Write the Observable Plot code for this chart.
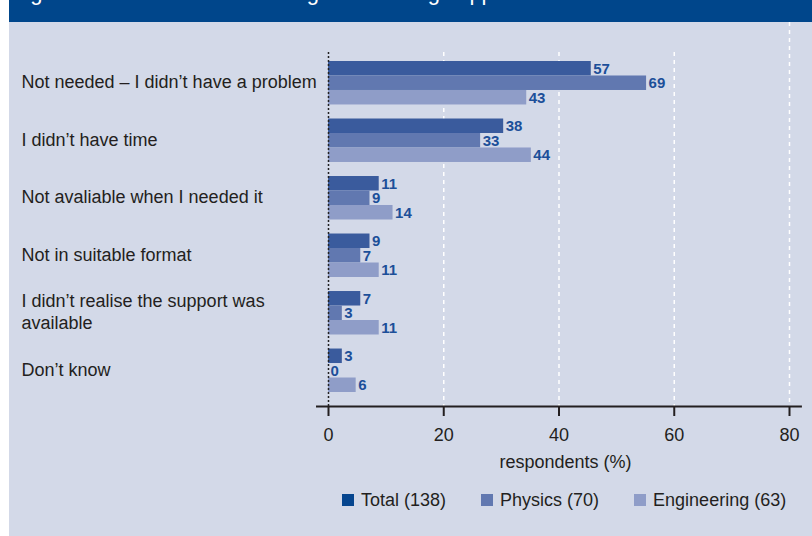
<!DOCTYPE html>
<html>
<head>
<meta charset="utf-8">
<script src="https://cdn.jsdelivr.net/npm/d3@7"></script>
<script src="https://cdn.jsdelivr.net/npm/@observablehq/plot@0.6"></script>
<style>
  html, body { margin: 0; padding: 0; }
  body { width: 812px; height: 536px; overflow: hidden; position: relative; background: #ffffff;
         font-family: "Liberation Sans", Arial, sans-serif; }
  #panel { position: absolute; left: 9px; top: 22px; width: 803px; height: 514px; background: #d3d9e8; }
  #banner { position: absolute; left: 9px; top: 0; width: 803px; height: 22px; background: #00468b; overflow: hidden; }
  #title { position: absolute; left: 3px; top: -18px; color: #ffffff; font-size: 22px; white-space: nowrap;
           font-family: "Liberation Sans", Arial, sans-serif; line-height: 22px; }
  #chart { position: absolute; left: 0; top: 0; }
  #legend { position: absolute; left: 342px; top: 488px; display: flex; align-items: center; height: 24px;
            font-size: 18px; color: #231f20; white-space: nowrap; width: 470px; }
  .item { display: flex; align-items: center; margin-right: 35px; flex: none; }
  .sw { width: 12px; height: 12px; margin-right: 7px; flex: none; }
</style>
</head>
<body>
<div id="panel"></div>
<div id="banner"><div id="title">Figure 6: Reasons for not using the learning support</div></div>
<div id="chart"></div>
<div id="legend"></div>
<script>
// ---- data ----
const categories = [
  "Not needed – I didn’t have a problem",
  "I didn’t have time",
  "Not avaliable when I needed it",
  "Not in suitable format",
  "I didn’t realise the support was\navailable",
  "Don’t know"
];
const seriesNames = ["Total (138)", "Physics (70)", "Engineering (63)"];
const totalValues = [57, 38, 11, 9, 7, 3];
const physicsValues = [69, 33, 9, 7, 3, 0];
const engineeringValues = [43, 44, 14, 11, 11, 6];
const axisTicks = [0, 20, 40, 60, 80];
const axisTitle = "respondents (%)";

// ---- styling ----
const barColors = ["#3a5b9d", "#6178b0", "#8f9dc8"];
const legendColors = ["#06468f", "#6178b0", "#8f9dc8"];
const labelColor = "#1c4f99";
const textColor = "#231f20";
// in the source figure bars are drawn 1.25x longer than the axis units
const barScale = 1.25;

const seriesValues = [totalValues, physicsValues, engineeringValues];
const rows = [];
seriesValues.forEach((vals, s) => vals.forEach((v, c) => rows.push({series: seriesNames[s], s, category: categories[c], value: v})));

const tickPositions = axisTicks.map(t => t * barScale);

const yRange = [61, 392];
const padIn = 0.244;
const step = (yRange[1] - yRange[0]) / (categories.length - padIn);
const bw = step * (1 - padIn);
const sub = bw / 3;

const marks = [];
// gridlines
marks.push(Plot.ruleX(tickPositions.slice(1, 4), {stroke: "#ffffff", strokeWidth: 1.5, strokeDasharray: "4,4", insetTop: 30}));
marks.push(Plot.ruleX(tickPositions.slice(4), {stroke: "#ffffff", strokeWidth: 1.5, strokeDasharray: "4,4"}));
// bars
seriesNames.forEach((name, i) => {
  marks.push(Plot.barX(rows.filter(r => r.s === i), {
    x: "value", y: "category", fill: barColors[i],
    insetTop: i * sub, insetBottom: (2 - i) * sub
  }));
});
// zero line
marks.push(Plot.ruleX([0], {stroke: "#222", strokeWidth: 1.5, strokeDasharray: "2,2", insetTop: 30}));
// value labels
seriesNames.forEach((name, i) => {
  marks.push(Plot.text(rows.filter(r => r.s === i), {
    x: "value", y: "category", text: d => String(d.value), dy: (i - 1) * sub, dx: 2,
    textAnchor: "start", fill: labelColor, fontWeight: "bold", fontSize: 15
  }));
});
// category labels
marks.push(Plot.text(categories, {
  y: d => d, text: d => d, frameAnchor: "left", dx: 21 - 328, dy: -2, textAnchor: "start",
  fill: textColor, fontSize: 18, lineHeight: 1.2
}));
// axis line
marks.push(Plot.ruleY([1], {y: null, x1: -2.6, x2: 102.8, dy: 192, stroke: "#231f20", strokeWidth: 2}));
// x axis
marks.push(Plot.axisX({
  ticks: tickPositions,
  tickFormat: d => String(axisTicks[tickPositions.indexOf(d)]),
  tickSize: 10, tickPadding: 12, fontSize: 18, stroke: "#231f20", strokeWidth: 2,
  fill: textColor, label: null
}));
marks.push(Plot.text([axisTitle], {text: d => d, frameAnchor: "bottom", dy: 61, dx: 6.5, fontSize: 18, fill: textColor}));

const chart = Plot.plot({
  width: 812,
  height: 480,
  marginLeft: 328,
  marginRight: 23,
  marginTop: 22,
  marginBottom: 74,
  style: {background: "transparent", fontFamily: "'Liberation Sans', Arial, sans-serif", overflow: "visible"},
  x: {domain: [0, 100], range: [328, 789]},
  y: {domain: categories, range: yRange, paddingInner: padIn, paddingOuter: 0, round: false, axis: null},
  marks
});
document.getElementById("chart").appendChild(chart);

const legend = document.getElementById("legend");
seriesNames.forEach((name, i) => {
  const item = document.createElement("div");
  item.className = "item";
  const sw = document.createElement("div");
  sw.className = "sw";
  sw.style.background = legendColors[i];
  const t = document.createElement("span");
  t.textContent = name;
  item.appendChild(sw);
  item.appendChild(t);
  legend.appendChild(item);
});
</script>
</body>
</html>
